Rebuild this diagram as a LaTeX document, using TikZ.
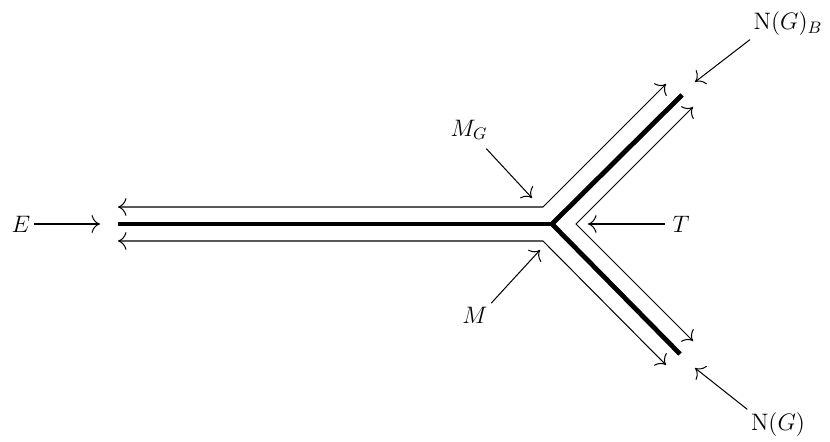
\RequirePackage{fix-cm}
\documentclass[tikz,border=0pt]{standalone}
\usetikzlibrary{arrows.meta}
\begin{document}
\begin{tikzpicture}[x=0.588pt,y=-0.588pt,
  thickpath/.style={line width=2.8pt},
  flow/.style={line width=0.6pt,{Computer Modern Rightarrow[scale=1.7]}-{Computer Modern Rightarrow[scale=1.7]}},
  pointer/.style={line width=0.6pt,-{Computer Modern Rightarrow[scale=1.7]}},
  lbl/.style={inner sep=2pt,font=\fontsize{14}{17}\selectfont}]
\useasboundingbox (0,0) rectangle (830,442);
% thick tree
\draw[thickpath] (118,224) coordinate (W) -- (552,224) coordinate (C);
\draw[thickpath,line join=miter] (682,95) coordinate (UB) -- (C) -- (680,354) coordinate (LB);
% flow lines
\coordinate (a1) at (666,84);
\coordinate (a2) at (543,207);
\coordinate (a3) at (118,207);
\coordinate (b1) at (118,241);
\coordinate (b2) at (543,241);
\coordinate (b3) at (666,365);
\coordinate (c1) at (693,107);
\coordinate (c2) at (576,224);
\coordinate (c3) at (693,341);
\draw[flow] (a1) -- (a2) -- (a3);
\draw[flow] (b1) -- (b2) -- (b3);
\draw[flow] (c1) -- (c2) -- (c3);
% labels
\node[lbl] (E) at (21,224) {$E$};
\node[lbl] (T) at (681,224) {$T$};
\node[lbl] (MG) at (469,130) {$M_G$};
\node[lbl] (M) at (475,315) {$M$};
\node[lbl] (NB) at (788,24) {$\mathrm{N}(G)_B$};
\node[lbl] (N) at (778,425) {$\mathrm{N}(G)$};
\coordinate (Etip) at (100,224);
\coordinate (Ttip) at (588,224);
\coordinate (MGtip) at (532,198);
\coordinate (Mtip) at (540,250);
\coordinate (NBtip) at (695,82);
\coordinate (Ntip) at (695,368);
\draw[pointer] (E) -- (Etip);
\draw[pointer,shorten <=2.5pt] (T) -- (Ttip);
\draw[pointer,shorten <=4pt] (MG) -- (MGtip);
\draw[pointer] (M.north east) -- (Mtip);
\draw[pointer] (NB.south west) -- (NBtip);
\draw[pointer] (N.north west) -- (Ntip);
\end{tikzpicture}
\end{document}
